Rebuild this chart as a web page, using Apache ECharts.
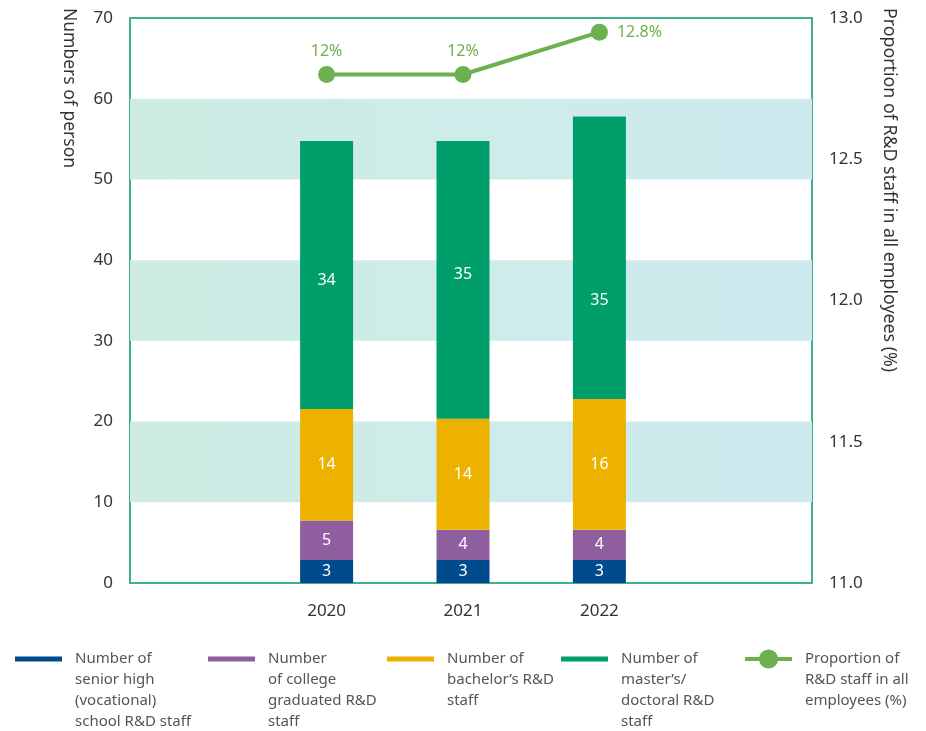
<!DOCTYPE html>
<html>
<head>
<meta charset="utf-8">
<script src="https://cdn.jsdelivr.net/npm/echarts@6/dist/echarts.min.js"></script>
<style>
html,body{margin:0;padding:0;background:#fff;}
#chart{width:926px;height:731px;}
</style>
</head>
<body>
<div id="chart"></div>
<script>
// ---- data ----
const categories = ['2020', '2021', '2022'];
const seniorHigh = [2.85, 2.85, 2.85];
const college = [4.9, 3.75, 3.75];
const bachelor = [13.8, 13.75, 16.2];
const masterDoctor = [33.2, 34.4, 35.0];
const seniorHighLabels = ['3', '3', '3'];
const collegeLabels = ['5', '4', '4'];
const bachelorLabels = ['14', '14', '16'];
const masterDoctorLabels = ['34', '35', '35'];
const proportion = [12.8, 12.8, 12.95];
const proportionLabels = ['12%', '12%', '12.8%'];
const leftTicks = [0, 10, 20, 30, 40, 50, 60, 70];
const rightTicks = [11.0, 11.5, 12.0, 12.5, 13.0];

const seriesNames = [
  'Number of senior high (vocational) school R&D staff',
  'Number of college graduated R&D staff',
  'Number of bachelor\u2019s R&D staff',
  'Number of master\u2019s/doctoral R&D staff',
  'Proportion of R&D staff in all employees (%)'
];
const legendTexts = [
  'Number of\nsenior high\n(vocational)\nschool R&D staff',
  'Number\nof college\ngraduated R&D\nstaff',
  'Number of\nbachelor\u2019s R&D\nstaff',
  'Number of\nmaster\u2019s/\ndoctoral R&D\nstaff',
  'Proportion of\nR&D staff in all\nemployees (%)'
];

// label vertical nudges (style only)
const masterLabelShift = [5, -5, 43];

const FONT = '"Noto Sans", "Source Sans Pro", sans-serif';
const pad = arr => ['-'].concat(arr, ['-']);
const xCats = [''].concat(categories, ['']);

const chart = echarts.init(document.getElementById('chart'), null, {renderer: 'canvas'});

function barSeries(name, values, labels, color, shifts) {
  return {
    name: name, type: 'bar', stack: 'staff',
    xAxisIndex: 1, yAxisIndex: 2,
    barWidth: 53,
    itemStyle: {color: color},
    label: {
      show: true, position: 'inside', color: '#fff', fontSize: 16, fontWeight: 'normal',
      fontFamily: FONT,
      formatter: p => labels[p.dataIndex - 1]
    },
    data: pad(values).map((v, i) => {
      if (v === '-' || !shifts) return v;
      return {value: v, label: {offset: [0, shifts[i - 1]]}};
    })
  };
}

// Blank lines so the first text line sits level with the legend icon
function legendText(t) {
  const n = t.split('\n').length;
  return '\n\n\n' + t + '\n'.repeat(4 - n);
}

const legendLefts = [15, 208, 387, 561, 743];
const legends = seriesNames.map((n, i) => {
  const isLine = i === 4;
  return {
    data: [n],
    left: legendLefts[i],
    top: 659 - 73.5,
    padding: 0,
    orient: 'vertical',
    selectedMode: false,
    itemWidth: 47,
    itemHeight: isLine ? 24 : 5,
    icon: isLine ? undefined : 'rect',
    lineStyle: isLine ? {width: 4} : undefined,
    formatter: () => legendText(legendTexts[i]),
    textStyle: {
      fontSize: 15, lineHeight: 21, color: '#555', fontFamily: FONT,
      padding: [0, 0, 0, 8]
    }
  };
});

const option = {
  backgroundColor: '#fff',
  animation: false,
  grid: [
    {left: 130, right: 114, top: 18, bottom: 148, show: true, borderColor: '#3fb08b', borderWidth: 2, backgroundColor: 'transparent'},
    {left: 122, right: 122, top: 18, bottom: 148}
  ],
  legend: legends,
  xAxis: [
    {gridIndex: 0, type: 'category', data: xCats, show: false},
    {gridIndex: 1, type: 'category', data: xCats,
     axisLine: {show: false}, axisTick: {show: false},
     axisLabel: {fontSize: 17, color: '#333', margin: 20, fontFamily: FONT}}
  ],
  yAxis: [
    {gridIndex: 0, type: 'value', position: 'left', min: leftTicks[0], max: leftTicks[leftTicks.length - 1], interval: 10,
     axisLine: {show: false}, axisTick: {show: false}, splitLine: {show: false},
     axisLabel: {fontSize: 17, color: '#333', margin: 17, fontFamily: FONT},
     splitArea: {show: true, areaStyle: {color: [
       'rgba(255,255,255,0)',
       new echarts.graphic.LinearGradient(0, 0, 1, 0, [{offset: 0, color: '#ceece3'}, {offset: 1, color: '#cdebef'}])
     ]}}},
    {gridIndex: 0, type: 'value', position: 'right', min: rightTicks[0], max: rightTicks[rightTicks.length - 1], interval: 0.5,
     axisLine: {show: false}, axisTick: {show: false}, splitLine: {show: false},
     axisLabel: {fontSize: 17, color: '#333', margin: 17, fontFamily: FONT, formatter: v => v.toFixed(1)}},
    {gridIndex: 1, type: 'value', min: 0, max: 70, show: false, splitLine: {show: false}},
    {gridIndex: 1, type: 'value', min: 11, max: 13, show: false, splitLine: {show: false}}
  ],
  series: [
    barSeries(seriesNames[0], seniorHigh, seniorHighLabels, '#004b8d'),
    barSeries(seriesNames[1], college, collegeLabels, '#8f5e9f'),
    barSeries(seriesNames[2], bachelor, bachelorLabels, '#edb100'),
    barSeries(seriesNames[3], masterDoctor, masterDoctorLabels, '#009e6b', masterLabelShift),
    {
      name: seriesNames[4], type: 'line', xAxisIndex: 1, yAxisIndex: 3,
      symbol: 'circle', symbolSize: 17,
      lineStyle: {width: 4, color: '#6db04f'},
      itemStyle: {color: '#6db04f'},
      label: {
        show: true, color: '#6db04f', fontSize: 16, fontWeight: 'normal', fontFamily: FONT,
        formatter: p => proportionLabels[p.dataIndex - 1]
      },
      data: pad(proportion).map((v, i) => {
        if (v === '-') return v;
        const last = i === categories.length;
        return {value: v, label: last ? {position: 'right', distance: 9} : {position: 'top', distance: 7}};
      }),
      z: 5
    }
  ],
  graphic: [
    {type: 'text', x: 69, y: 8, rotation: -Math.PI / 2,
     style: {text: 'Numbers of person', fontSize: 17.5, fill: '#333', fontFamily: FONT, align: 'left', verticalAlign: 'middle'}},
    {type: 'text', x: 889, y: 8, rotation: -Math.PI / 2,
     style: {text: 'Proportion of R&D staff in all employees (%)', fontSize: 17.8, fill: '#333', fontFamily: FONT, align: 'left', verticalAlign: 'middle'}}
  ]
};
chart.setOption(option);
</script>
</body>
</html>
